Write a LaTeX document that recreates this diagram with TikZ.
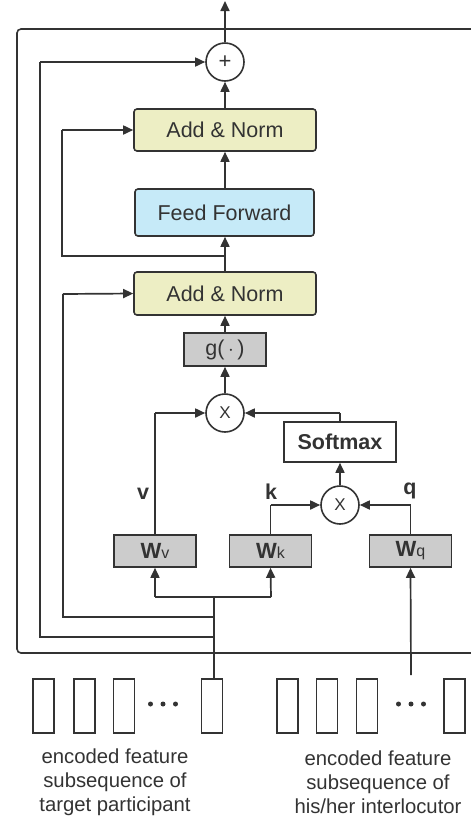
\documentclass[tikz,border=0pt]{standalone}
\usepackage{fontspec}
\setmainfont{Liberation Sans}
\usetikzlibrary{arrows.meta}
\definecolor{ln}{HTML}{333333}
\definecolor{anfill}{HTML}{EDEEC4}
\definecolor{ffill}{HTML}{C6EAF8}
\definecolor{gfill}{HTML}{CCCCCC}
\tikzset{
  conn/.style={draw=ln, line width=1.7pt},
  arr/.style={conn, -{Triangle[length=10pt,width=9pt]}},
  bigbox/.style={draw=ln, line width=1.6pt, rounded corners=3pt, minimum width=182pt, minimum height=42pt, font=\fontsize{21.5}{25}\selectfont, text=ln, inner sep=0pt},
  gbox/.style={draw=ln, line width=1.6pt, fill=gfill, minimum width=82pt, minimum height=32pt, text=ln, inner sep=0pt},
  opc/.style={draw=ln, line width=1.6pt, circle, fill=white, minimum size=38pt, inner sep=0pt, text=ln, font=\fontsize{17}{18}\selectfont},
  feat/.style={draw=ln, line width=1.6pt, minimum width=21pt, minimum height=54pt, inner sep=0pt},
  lbl/.style={text=ln, font=\fontsize{21.5}{25}\selectfont\bfseries},
  captxt/.style={text=ln, align=center, font=\fontsize{20.3}{24}\selectfont},
  dotc/.style={fill=ln, circle, inner sep=0pt, minimum size=5pt}
}
\newcommand{\wlab}[1]{{\fontsize{22}{25}\selectfont\bfseries W}{\fontsize{16}{18}\selectfont #1}}
\begin{document}
\begin{tikzpicture}[x=1pt,y=-1pt]
\useasboundingbox (0,0) rectangle (471,820);
% outer frame
\draw[draw=ln, line width=1.6pt, rounded corners=4pt] (17,29) rectangle (490,653);
% nodes
\node[opc, font=\fontsize{22}{24}\selectfont] (plus) at (225,62) {+};
\node[bigbox, fill=anfill] (an1) at (225,130) {Add \& Norm};
\node[bigbox, fill=ffill, minimum width=179pt, minimum height=47pt] (ff) at (224.5,212.5) {Feed Forward};
\node[bigbox, fill=anfill, minimum height=43pt] (an2) at (225,293.5) {Add \& Norm};
\node[gbox, minimum height=33pt, font=\fontsize{21.5}{25}\selectfont] (g) at (225,349.5) {g(\,$\cdot$\,)};
\node[opc] (x1) at (225,413) {X};
\node[draw=ln, line width=1.6pt, fill=white, minimum width=112pt, minimum height=40pt, inner sep=0pt, lbl] (sm) at (340,442) {Softmax};
\node[opc] (x2) at (340,505) {X};
\node[gbox] (wv) at (155,551) {\wlab{v}};
\node[gbox] (wk) at (270.5,551) {\wlab{k}};
\node[gbox] (wq) at (410.5,551) {\wlab{q}};
\node[lbl] (lv) at (143,494) {v};
\node[lbl] (lk) at (271,492) {k};
\node[lbl] (lq) at (410,491) {q};
% feature boxes
\node[feat] (a1) at (43.5,706) {};
\node[feat] (a2) at (84.5,706) {};
\node[feat] (a3) at (124,706) {};
\node[dotc] (ad1) at (150.5,704) {};
\node[dotc] (ad2) at (163,704) {};
\node[dotc] (ad3) at (175.5,704) {};
\node[feat] (a4) at (212,706) {};
\node[feat] (b1) at (287.5,706) {};
\node[feat] (b2) at (327,706) {};
\node[feat] (b3) at (367,706) {};
\node[dotc] (bd1) at (398.5,704) {};
\node[dotc] (bd2) at (411,704) {};
\node[dotc] (bd3) at (423.5,704) {};
\node[feat] (b4) at (454.5,706) {};
\node[captxt] (ca) at (115,782) {encoded feature\\subsequence of\\target participant};
\node[captxt] (cb) at (378,782) {encoded feature\\subsequence of\\his/her interlocutor};
% coordinates
\coordinate (top) at (225,1);
\coordinate (jff) at (225,256);
\coordinate (jb) at (214,597);
\coordinate (j2) at (214,617);
\coordinate (j3) at (214,637);
\coordinate (qend) at (411,675);
% connectors
\draw[arr] (plus.north) -- (top);
\draw[arr] (an1.north) -- (plus.south);
\draw[arr] (ff.north -| an1.north) -- (an1.south);
\draw[arr] (an2.north) -- (ff.south -| an2.north);
\draw[conn] (jff) -- (62,256) -- (62,130);
\draw[arr] (62,130) -- (an1.west);
\draw[arr] (g.north) -- (an2.south);
\draw[arr] (x1.north) -- (g.south);
\draw[conn] (wv.north) -- (wv.north |- x1.west);
\draw[arr] (wv.north |- x1.west) -- (x1.west);
\draw[conn] (sm.north) -- (sm.north |- x1.east);
\draw[arr] (sm.north |- x1.east) -- (x1.east);
\draw[arr] (x2.north) -- (sm.south);
\draw[conn] (wk.north) -- (wk.north |- x2.west);
\draw[arr] (wk.north |- x2.west) -- (x2.west);
\draw[conn] (wq.north) -- (wq.north |- x2.east);
\draw[arr] (wq.north |- x2.east) -- (x2.east);
\draw[conn] (a4.north -| jb) -- (jb);
\draw[conn] (jb) -- (155,597);
\draw[arr] (155,597) -- (wv.south);
\draw[conn] (jb) -- (271,597);
\draw[arr] (271,597) -- (wk.south);
\draw[conn] (j2) -- (63,617) -- (63,294);
\draw[arr] (63,294) -- (an2.west);
\draw[conn] (j3) -- (40,637) -- (40,62);
\draw[arr] (40,62) -- (plus.west);
\draw[arr] (qend) -- (wq.south);
\end{tikzpicture}
\end{document}
